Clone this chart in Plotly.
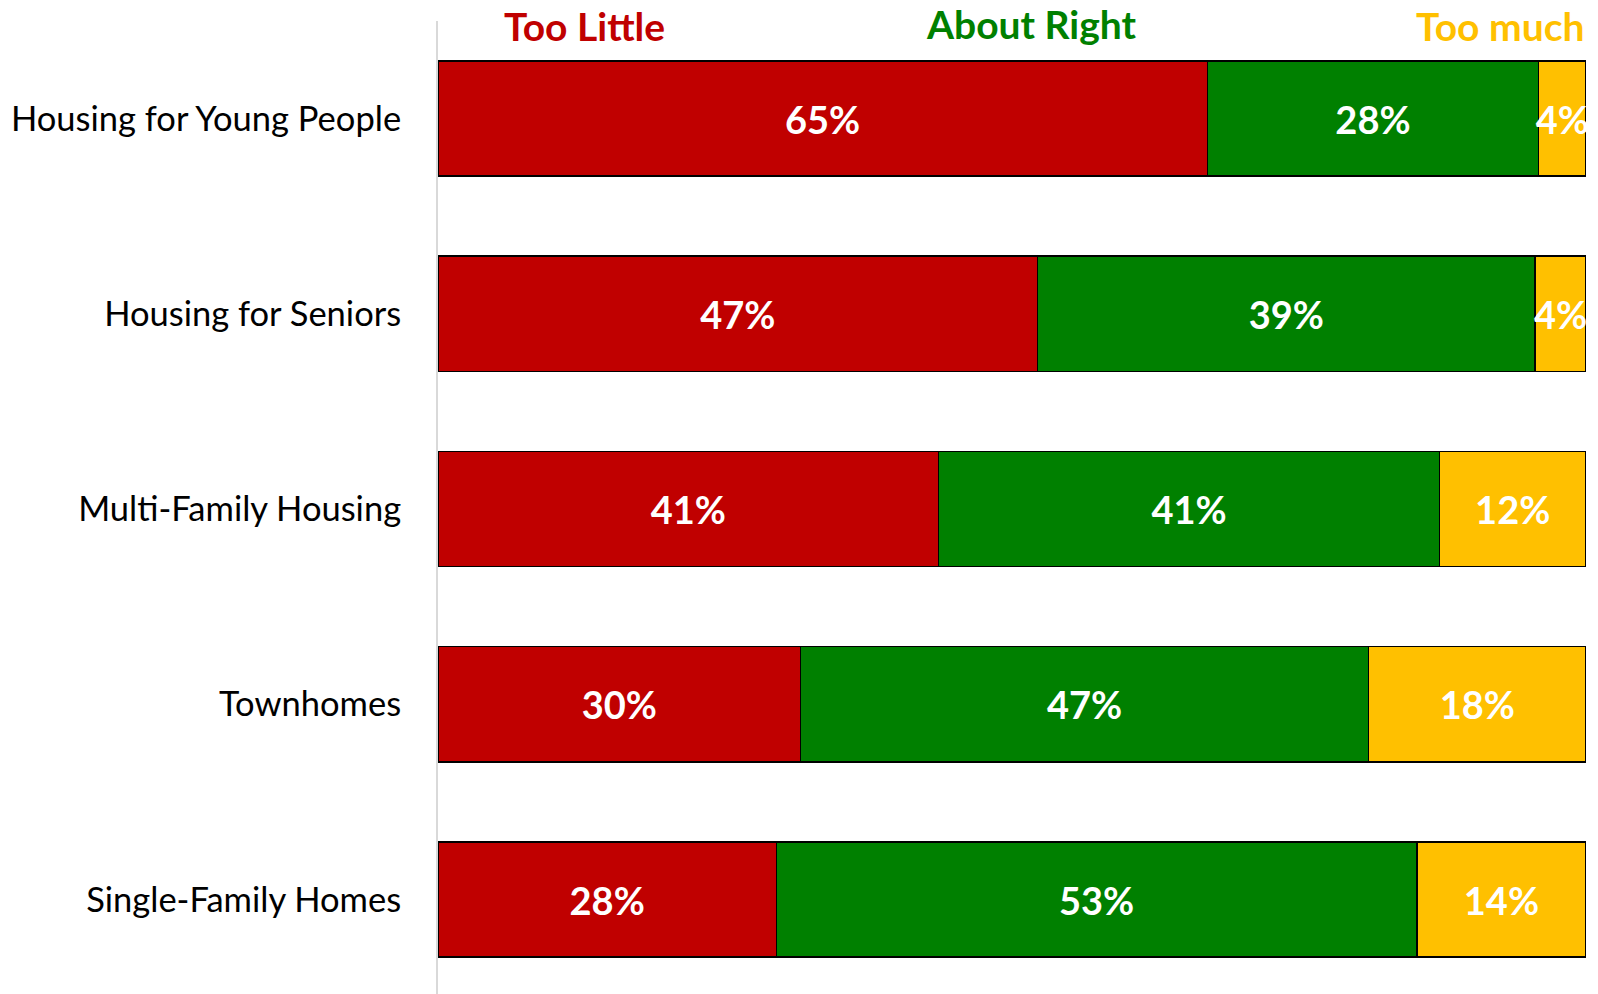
import plotly.graph_objects as go

# Survey: perceived supply of each housing type
categories = [
    "Housing for Young People",
    "Housing for Seniors",
    "Multi-Family Housing",
    "Townhomes",
    "Single-Family Homes",
]
series_names = ["Too Little", "About Right", "Too much"]
too_little = [65, 47, 41, 30, 28]
about_right = [28, 39, 41, 47, 53]
too_much = [4, 4, 12, 18, 14]

colors = ["#C00000", "#008000", "#FFC000"]
values = [too_little, about_right, too_much]

FONT = "Lato"

fig = go.Figure()
for name, vals, col in zip(series_names, values, colors):
    fig.add_trace(go.Bar(
        name=name,
        y=categories,
        x=vals,
        orientation="h",
        marker=dict(color=col, line=dict(color="black", width=1.5)),
        text=[f"{v}%" for v in vals],
        textposition="inside",
        insidetextanchor="middle",
        textangle=0,
        constraintext="none",
        cliponaxis=False,
        textfont=dict(family=FONT, size=38, color="white", weight="bold"),
        width=0.59,
        hoverinfo="skip",
    ))

# Column headers above the bars, coloured like their series
header_x = [0.128, 0.5166, 1.0]
header_anchor = ["center", "center", "right"]
header_shift = [-5, -3, -5]
for name, col, hx, anc, sh in zip(series_names, colors, header_x, header_anchor, header_shift):
    fig.add_annotation(
        text=name, x=hx, y=1, xref="paper", yref="paper",
        xanchor=anc, yanchor="middle", yshift=sh, showarrow=False,
        font=dict(family=FONT, size=39, color=col, weight="bold"),
    )

fig.update_layout(
    barmode="stack",
    barnorm="percent",
    width=1598,
    height=994,
    margin=dict(l=438, r=12, t=21, b=0),
    paper_bgcolor="white",
    plot_bgcolor="white",
    showlegend=False,
    xaxis=dict(range=[0, 100], showticklabels=False, showgrid=False,
               zeroline=False, showline=False),
    yaxis=dict(
        categoryorder="array", categoryarray=categories,
        range=[4.484, -0.4994],
        showgrid=False, zeroline=False,
        showline=True, linecolor="#D9D9D9", linewidth=2,
        ticks="", ticklabelstandoff=28,
        tickfont=dict(family=FONT, size=34.5, color="black"),
    ),
)

fig.write_html("out.html")
